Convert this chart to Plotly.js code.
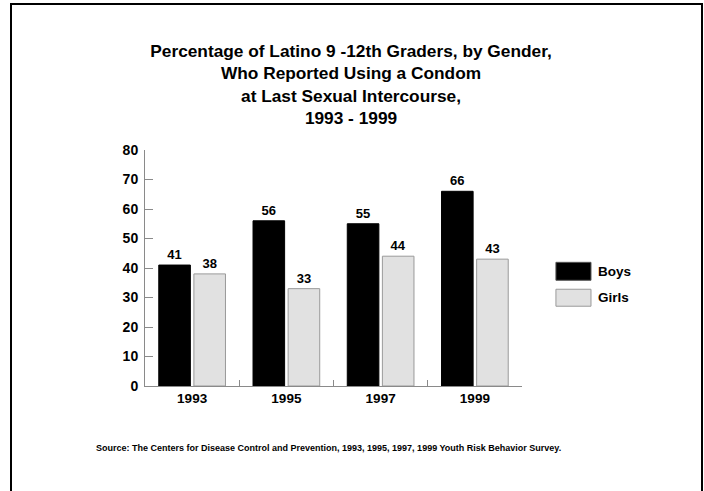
<!DOCTYPE html>
<html>
<head>
<meta charset="utf-8">
<script src="https://cdn.plot.ly/plotly-3.0.1.min.js"></script>
<style>
  html, body { margin: 0; padding: 0; background: #fff; }
  #chart { position: absolute; left: 0; top: 0; width: 704px; height: 491px; }
  #frame { position: absolute; left: 10px; top: 3px; width: 689px; height: 500px;
           border-left: 2px solid #000; border-top: 2px solid #000; border-right: 2px solid #000;
           pointer-events: none; }
</style>
</head>
<body>
<div id="chart"></div>
<div id="frame"></div>
<script>
const years = ['1993', '1995', '1997', '1999'];
const boys = [41, 56, 55, 66];
const girls = [38, 33, 44, 43];
const seriesNames = ['Boys', 'Girls'];
const yTicks = [0, 10, 20, 30, 40, 50, 60, 70, 80];
const titleText = 'Percentage of Latino 9 -12th Graders, by Gender,<br>Who Reported Using a Condom<br>at Last Sexual Intercourse,<br>1993 - 1999';
const sourceText = 'Source: The Centers for Disease Control and Prevention, 1993, 1995, 1997, 1999 Youth Risk Behavior Survey.';

const FONT = 'Liberation Sans, Arial, Helvetica, sans-serif';
const boysColor = '#000000';
const girlsColor = '#e1e1e1';

const labelFont = { family: FONT, size: 13, color: '#000', weight: 'bold' };

const traces = [
  { type: 'bar', name: seriesNames[0], x: years, y: boys, text: boys.map(String),
    textposition: 'outside', textfont: labelFont, cliponaxis: false,
    marker: { color: boysColor, line: { color: '#000', width: 1 } }, hoverinfo: 'none' },
  { type: 'bar', name: seriesNames[1], x: years, y: girls, text: girls.map(String),
    textposition: 'outside', textfont: labelFont, cliponaxis: false,
    marker: { color: girlsColor, line: { color: '#9a9a9a', width: 1 } }, hoverinfo: 'none' }
];

// legend drawn as shapes + annotations (paper coords relative to plot area)
const legendShapes = [
  { type: 'rect', xref: 'paper', yref: 'paper', x0: 1.090, x1: 1.183, y0: 0.448, y1: 0.524,
    fillcolor: boysColor, line: { color: '#555', width: 1 } },
  { type: 'rect', xref: 'paper', yref: 'paper', x0: 1.090, x1: 1.183, y0: 0.338, y1: 0.410,
    fillcolor: girlsColor, line: { color: '#9a9a9a', width: 1 } }
];
const legendAnns = [
  { xref: 'paper', yref: 'paper', x: 1.196, y: 0.486, xanchor: 'left', yanchor: 'middle',
    text: seriesNames[0], showarrow: false, font: { family: FONT, size: 13.5, color: '#000', weight: 'bold' } },
  { xref: 'paper', yref: 'paper', x: 1.196, y: 0.374, xanchor: 'left', yanchor: 'middle',
    text: seriesNames[1], showarrow: false, font: { family: FONT, size: 13.5, color: '#000', weight: 'bold' } },
  { xref: 'paper', yref: 'paper', x: -0.136, y: -0.262, xanchor: 'left', yanchor: 'middle',
    text: sourceText, showarrow: false, font: { family: FONT, size: 9, color: '#000', weight: 'bold' } }
];

const layout = {
  width: 704, height: 491,
  margin: { l: 145, r: 182, t: 149.5, b: 105, pad: 0 },
  paper_bgcolor: 'rgba(0,0,0,0)', plot_bgcolor: 'rgba(0,0,0,0)',
  showlegend: false,
  barmode: 'group', bargap: 0.255, bargroupgap: 0.1,
  title: { text: titleText, x: 0.4986, xanchor: 'center', yref: 'container', y: 1 - 57 / 491, yanchor: 'top',
           font: { family: FONT, size: 17.3, color: '#000', weight: 'bold' } },
  xaxis: { type: 'category', showline: true, linecolor: '#8a8a8a', linewidth: 1,
           ticks: 'inside', tickson: 'boundaries', ticklen: 6, tickcolor: '#8a8a8a',
           showgrid: false, zeroline: false,
           tickfont: { family: FONT, size: 13.5, color: '#000', weight: 'bold' } },
  yaxis: { range: [0, 80], tickvals: yTicks, showline: true, linecolor: '#8a8a8a', linewidth: 1,
           ticks: 'inside', ticklen: 8, tickcolor: '#8a8a8a', showgrid: false, zeroline: false,
           ticklabelstandoff: 3,
           tickfont: { family: FONT, size: 14, color: '#000', weight: 'bold' } },
  shapes: legendShapes,
  annotations: legendAnns
};

Plotly.newPlot('chart', traces, layout, { staticPlot: true, displayModeBar: false });
</script>
</body>
</html>
